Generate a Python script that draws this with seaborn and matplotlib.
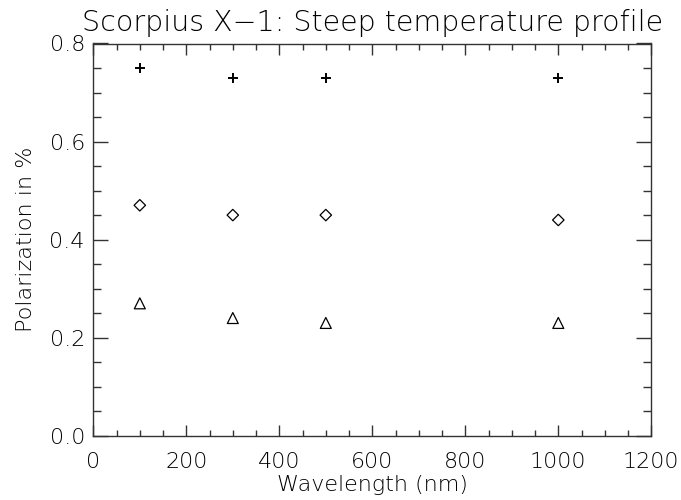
import matplotlib
matplotlib.use("Agg")
import matplotlib.pyplot as plt
from matplotlib.ticker import MultipleLocator
import seaborn as sns
import pandas as pd

# Polarization vs. wavelength for three model cases
wavelength_nm = [100, 300, 500, 1000]
pol_plus = [0.75, 0.73, 0.73, 0.73]
pol_diamond = [0.47, 0.45, 0.45, 0.44]
pol_triangle = [0.27, 0.24, 0.23, 0.23]

sns.set_theme(style="white")
plt.rcParams["font.family"] = ["DejaVu Sans"]
plt.rcParams["font.weight"] = "light"
plt.rcParams["axes.labelweight"] = "light"
plt.rcParams["axes.titleweight"] = "light"

fig = plt.figure(figsize=(6.81, 5.0), dpi=100)
ax = fig.add_axes([0.137, 0.1286, 0.8194, 0.7844])

df_plus = pd.DataFrame({"wavelength": wavelength_nm, "pol": pol_plus})
df_diamond = pd.DataFrame({"wavelength": wavelength_nm, "pol": pol_diamond})
df_triangle = pd.DataFrame({"wavelength": wavelength_nm, "pol": pol_triangle})

sns.scatterplot(data=df_plus, x="wavelength", y="pol", marker="+", s=60,
                color="black", linewidth=1.4, ax=ax)
sns.scatterplot(data=df_diamond, x="wavelength", y="pol", marker="D", s=34,
                facecolor="none", edgecolor="black", linewidth=0.9, ax=ax)
sns.scatterplot(data=df_triangle, x="wavelength", y="pol", marker="^", s=62,
                facecolor="none", edgecolor="black", linewidth=0.9, ax=ax)

ax.set_xlim(0, 1200)
ax.set_ylim(0, 0.8)
ax.xaxis.set_major_locator(MultipleLocator(200))
ax.xaxis.set_minor_locator(MultipleLocator(50))
ax.yaxis.set_major_locator(MultipleLocator(0.2))
ax.yaxis.set_minor_locator(MultipleLocator(0.05))
ax.yaxis.set_major_formatter(plt.FuncFormatter(lambda v, p: f"{v:.1f}"))

ax.tick_params(axis="both", which="both", direction="in",
               bottom=True, left=True, top=True, right=True,
               color="#333333", labelsize=16, labelcolor="black")
ax.tick_params(axis="x", which="major", length=8, width=1, pad=12)
ax.tick_params(axis="x", which="minor", length=4, width=1)
ax.tick_params(axis="y", which="major", length=11, width=1, pad=6)
ax.tick_params(axis="y", which="minor", length=5.5, width=1)

for sp in ax.spines.values():
    sp.set_color("#333333")
    sp.set_linewidth(1.0)

ax.set_xlabel("Wavelength (nm)", fontsize=16, color="black", labelpad=2)
ax.set_ylabel("Polarization in %", fontsize=16, color="black", labelpad=10)
ax.set_title("Scorpius X\u22121: Steep temperature profile", fontsize=20.5,
             color="black", pad=9)

fig.savefig("out.png", dpi=100)
